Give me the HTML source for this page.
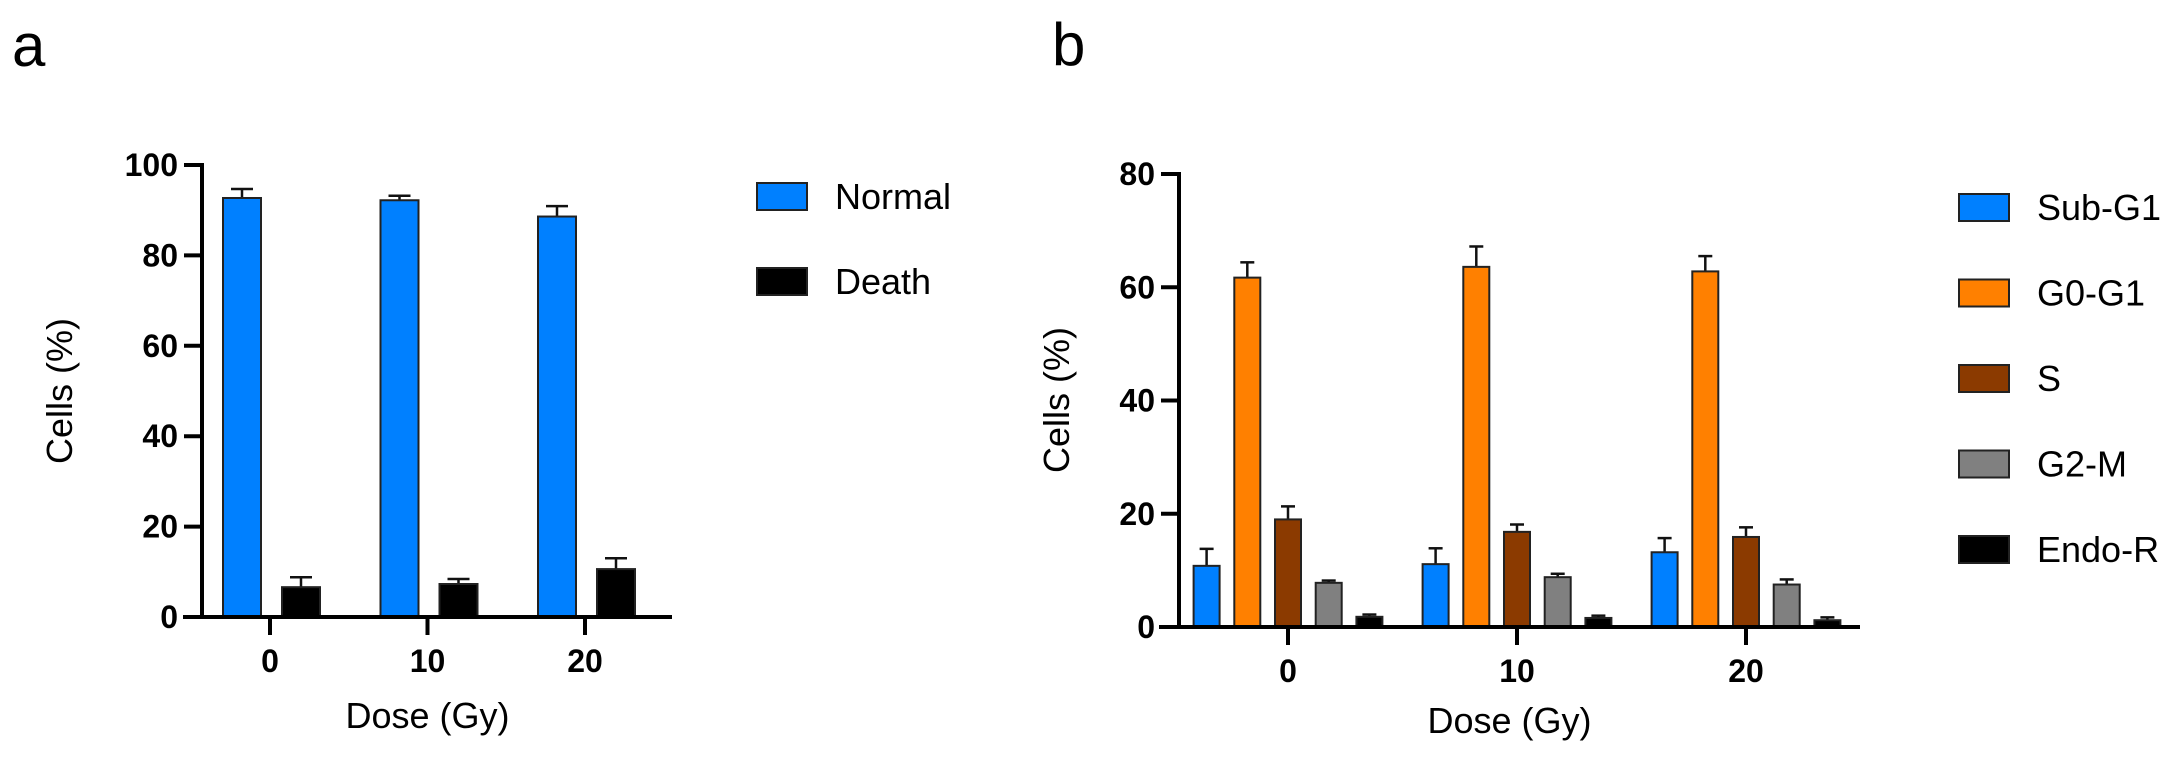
<!DOCTYPE html>
<html><head><meta charset="utf-8"><style>
html,body{margin:0;padding:0;background:#fff;}
svg{display:block;font-family:"Liberation Sans",Arial,sans-serif;}
</style></head><body>
<svg id="fig" width="2180" height="761" viewBox="0 0 2180 761" xmlns="http://www.w3.org/2000/svg">
<rect width="2180" height="761" fill="#fff"/>
<text x="12" y="66" font-size="60">a</text>
<text x="1052" y="65" font-size="60">b</text>
<g id="chartA"></g>
<g id="chartB"></g>
</svg>
<script>
const doses = ["0", "10", "20"];
const aSeries = ["Normal", "Death"];
const aNormal = [92.7, 92.2, 88.6];
const aNormalErr = [2.0, 1.0, 2.3];
const aDeath = [6.6, 7.3, 10.6];
const aDeathErr = [2.2, 1.1, 2.4];
const aTicks = [0, 20, 40, 60, 80, 100];

const bSeries = ["Sub-G1", "G0-G1", "S", "G2-M", "Endo-R"];
const bSubG1 = [10.8, 11.1, 13.2];
const bSubG1Err = [3.0, 2.8, 2.5];
const bG0G1 = [61.7, 63.6, 62.8];
const bG0G1Err = [2.7, 3.6, 2.7];
const bS = [19.0, 16.8, 15.9];
const bSErr = [2.3, 1.3, 1.7];
const bG2M = [7.8, 8.8, 7.5];
const bG2MErr = [0.4, 0.6, 0.9];
const bEndo = [1.8, 1.6, 1.2];
const bEndoErr = [0.4, 0.4, 0.5];
const bTicks = [0, 20, 40, 60, 80];

const NS = "http://www.w3.org/2000/svg";
function mk(parent, tag, attrs, text) {
  const e = document.createElementNS(NS, tag);
  for (const k in attrs) e.setAttribute(k, attrs[k]);
  if (text !== undefined) e.textContent = text;
  parent.appendChild(e);
  return e;
}

function drawChart(g, cfg) {
  const y = v => cfg.y0 - (v - 0) * (cfg.y0 - cfg.yTop) / cfg.yMax;
  const gx = i => cfg.g0 + i * cfg.gStep;
  // bars
  cfg.series.forEach((s, si) => {
    doses.forEach((d, i) => {
      const cx = gx(i) + cfg.offsets[si];
      const v = cfg.values[si][i], err = cfg.errs[si][i];
      const top = y(v + err);
      const el = mk(g, "line", {x1: cx, x2: cx, y1: cfg.twoSided ? y(v - err) : y(v), y2: top, stroke: "#111", "stroke-width": 2.5});
      
      
      const cap = mk(g, "line", {x1: cx - cfg.cap / 2, x2: cx + cfg.cap / 2, y1: top, y2: top, stroke: "#111", "stroke-width": 2.5});
      
      
      if (cfg.twoSided) {
        const cap2 = mk(g, "line", {x1: cx - cfg.cap / 2, x2: cx + cfg.cap / 2, y1: y(v - err), y2: y(v - err), stroke: "#111", "stroke-width": 2.5});
        
        
      }
      const r = mk(g, "rect", {x: cx - cfg.bw / 2, y: y(v), width: cfg.bw, height: cfg.y0 - y(v), fill: cfg.colors[si], stroke: "#222", "stroke-width": 2});
      
      
    });
  });
  // y axis
  const ya = mk(g, "line", {x1: cfg.ax, x2: cfg.ax, y1: cfg.yTop - 2, y2: cfg.y0 + 2, stroke: "#000", "stroke-width": 4});
  
  
  cfg.ticks.forEach(t => {
    const tl = mk(g, "line", {x1: cfg.ax - 18, x2: cfg.ax, y1: y(t), y2: y(t), stroke: "#000", "stroke-width": 4});
    
    
    const tx = mk(g, "text", {x: cfg.ax - 24, y: y(t) + 11, "font-size": 32, "font-weight": "bold", "text-anchor": "end"}, String(t));
    
    
  });
  // x axis
  const xa = mk(g, "line", {x1: cfg.xStart, x2: cfg.xEnd, y1: cfg.y0, y2: cfg.y0, stroke: "#000", "stroke-width": 4});
  
  
  doses.forEach((d, i) => {
    const tl = mk(g, "line", {x1: gx(i), x2: gx(i), y1: cfg.y0, y2: cfg.y0 + 18, stroke: "#000", "stroke-width": 4});
    
    
    const tx = mk(g, "text", {x: gx(i), y: cfg.y0 + 55, "font-size": 32, "font-weight": "bold", "text-anchor": "middle"}, d);
    
    
  });
  const xt = mk(g, "text", {x: (cfg.xStart + cfg.xEnd) / 2, y: cfg.xTitleY, "font-size": 36, "text-anchor": "middle"}, "Dose (Gy)");
  
  
  const yt = mk(g, "text", {x: 0, y: 0, "font-size": 36, "text-anchor": "middle", transform: "translate(" + cfg.yTitleX + "," + cfg.yTitleY + ") rotate(-90)"}, "Cells (%)");
  
  
  // legend
  cfg.series.forEach((s, si) => {
    const ly = cfg.legY + si * cfg.legStep;
    const sq = mk(g, "rect", {x: cfg.legX, y: ly - 13, width: 50, height: 27, fill: cfg.colors[si], stroke: "#222", "stroke-width": 2});
    
    
    const lt = mk(g, "text", {x: cfg.legX + 78, y: ly + 13, "font-size": 36}, s);
    
    
  });
}

drawChart(document.getElementById("chartA"), {
  series: aSeries, values: [aNormal, aDeath], errs: [aNormalErr, aDeathErr],
  colors: ["#0080ff", "#000000"], offsets: [-28, 31], bw: 38, cap: 22, twoSided: true,
  y0: 617, yTop: 165, yMax: 100, ticks: aTicks, ax: 202,
  g0: 270, gStep: 157.5, xStart: 183, xEnd: 672, xTitleY: 728,
  yTitleX: 72, yTitleY: 391, legX: 757, legY: 196, legStep: 85
});
drawChart(document.getElementById("chartB"), {
  series: bSeries, values: [bSubG1, bG0G1, bS, bG2M, bEndo], errs: [bSubG1Err, bG0G1Err, bSErr, bG2MErr, bEndoErr],
  colors: ["#0080ff", "#ff8000", "#8b3a00", "#808080", "#000000"], offsets: [-81.4, -40.7, 0, 40.7, 81.4], bw: 26, cap: 14, twoSided: false,
  y0: 627, yTop: 174, yMax: 80, ticks: bTicks, ax: 1179,
  g0: 1288, gStep: 229, xStart: 1159, xEnd: 1860, xTitleY: 733,
  yTitleX: 1069, yTitleY: 400, legX: 1959, legY: 207, legStep: 85.5
});
</script>
</body></html>
